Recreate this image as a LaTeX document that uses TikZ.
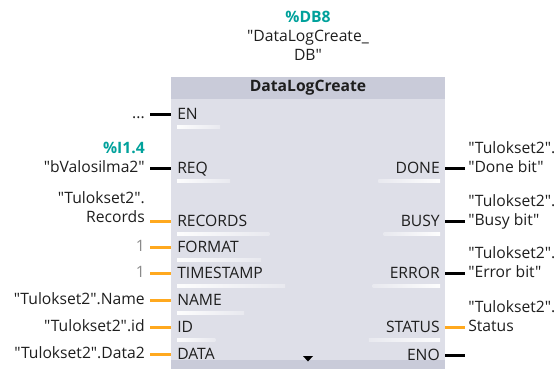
\documentclass[tikz,border=0pt]{standalone}
\usepackage{fontspec}
\setmainfont{Open Sans}[Ligatures=TeXOff]
\usetikzlibrary{positioning}
\definecolor{fbbody}{HTML}{DEDFE8}
\definecolor{fbhead}{HTML}{C9CBD9}
\definecolor{tagteal}{HTML}{00A19B}
\definecolor{wireorange}{HTML}{FFA91F}
\definecolor{constgray}{HTML}{8A8A8A}
\definecolor{txt}{HTML}{1E1E1E}
\pgfdeclarehorizontalshading{barleft}{100bp}{color(0bp)=(white); color(20bp)=(white); color(100bp)=(fbbody)}
\pgfdeclarehorizontalshading{barright}{100bp}{color(0bp)=(fbbody); color(80bp)=(white); color(100bp)=(white)}
% white fading bar under a pin name
\newcommand{\pinbarL}[1]{\shade[shading=barleft] ([xshift=4.5pt,yshift=-8.6pt]#1.west) rectangle ([xshift=12pt,yshift=-10.9pt]#1.east);}
\newcommand{\pinbarR}[1]{\shade[shading=barright] ([xshift=-9pt,yshift=-8.6pt]#1.west) rectangle ([xshift=-3.75pt,yshift=-10.9pt]#1.east);}
\begin{document}
\begin{tikzpicture}[x=0.75pt, y=-0.75pt,
    font=\fontsize{11.75}{14}\selectfont, text=txt,
    pinL/.style={anchor=west, inner xsep=4.5pt, inner ysep=0pt, text height=8.3pt, text depth=0pt},
    pinR/.style={anchor=east, inner xsep=3.75pt, inner ysep=0pt, text height=8.3pt, text depth=0pt},
    opL/.style={anchor=base east, align=right, inner xsep=3.75pt, inner ysep=0pt},
    opR/.style={anchor=base west, align=left, inner xsep=2.25pt, inner ysep=0pt},
    wire/.style={line width=2.25pt, draw=#1},
    wire/.default=black
]
    \useasboundingbox (0,0) rectangle (560,369);
    % block
    \fill[fbbody] (171,99) rectangle (445,369);
    \node[fill=fbhead, minimum width=205.5pt, minimum height=16.5pt, inner sep=0pt, font=\fontsize{11.75}{14}\selectfont\bfseries] (head) at (308,88) {DataLogCreate};
    \fill[fbhead] (171,360) rectangle (445,369);
    \fill[black] (303,356) -- (313,356) -- (308,361.5) -- cycle;
    \node[align=center, anchor=base] (idb) at (308,60) {{\color{tagteal}\bfseries\%DB8}\\"DataLogCreate\_\\DB"};

    % input pins
    \node[pinL] (en) at (171,114) {EN};
    \node[pinL] (req) at (171,168) {REQ};
    \node[pinL] (records) at (171,221) {RECORDS};
    \node[pinL] (format) at (171,247) {FORMAT};
    \node[pinL] (timestamp) at (171,273) {TIMESTAMP};
    \node[pinL] (name) at (171,300) {NAME};
    \node[pinL] (id) at (171,327) {ID};
    \node[pinL] (data) at (171,354) {DATA};
    \pinbarL{en} \pinbarL{req} \pinbarL{records} \pinbarL{format}
    \pinbarL{timestamp} \pinbarL{name} \pinbarL{id}

    % output pins
    \node[pinR] (done) at (445,168) {DONE};
    \node[pinR] (busy) at (445,221) {BUSY};
    \node[pinR] (error) at (445,273) {ERROR};
    \node[pinR] (status) at (445,327) {STATUS};
    \node[pinR] (eno) at (445,355) {ENO};
    \pinbarR{done} \pinbarR{busy} \pinbarR{error} \pinbarR{status}

    % input operands
    \node[opL] (openen) at (150,118) {...};
    \node[opL] (opreq) at (150,172) {{\color{tagteal}\bfseries\%I1.4}\\"bValosilma2"};
    \node[opL] (oprecords) at (150,222) {"Tulokset2".\\Records};
    \node[opL, text=constgray] (opformat) at (150,251) {1};
    \node[opL, text=constgray] (optimestamp) at (150,277) {1};
    \node[opL] (opname) at (150,304) {"Tulokset2".Name};
    \node[opL] (opid) at (150,331) {"Tulokset2".id};
    \node[opL] (opdata) at (150,358) {"Tulokset2".Data2};

    % output operands
    \node[opR] (opdone) at (465,172) {"Tulokset2".\\"Done bit"};
    \node[opR] (opbusy) at (465,225) {"Tulokset2".\\"Busy bit"};
    \node[opR] (operror) at (465,277) {"Tulokset2".\\"Error bit"};
    \node[opR] (opstatus) at (465,331) {"Tulokset2".\\Status};
    \coordinate (openo) at (465,355);

    % wires
    \draw[wire] (en.west -| openen.east) -- (en.west);
    \draw[wire] (req.west -| opreq.east) -- (req.west);
    \draw[wire=wireorange] (records.west -| oprecords.east) -- (records.west);
    \draw[wire=wireorange] (format.west -| opformat.east) -- (format.west);
    \draw[wire=wireorange] (timestamp.west -| optimestamp.east) -- (timestamp.west);
    \draw[wire=wireorange] (name.west -| opname.east) -- (name.west);
    \draw[wire=wireorange] (id.west -| opid.east) -- (id.west);
    \draw[wire=wireorange] (data.west -| opdata.east) -- (data.west);
    \draw[wire] (done.east) -- (done.east -| opdone.west);
    \draw[wire] (busy.east) -- (busy.east -| opbusy.west);
    \draw[wire] (error.east) -- (error.east -| operror.west);
    \draw[wire=wireorange] (status.east) -- (status.east -| opstatus.west);
    \draw[wire] (eno.east) -- (openo);
\end{tikzpicture}
\end{document}
